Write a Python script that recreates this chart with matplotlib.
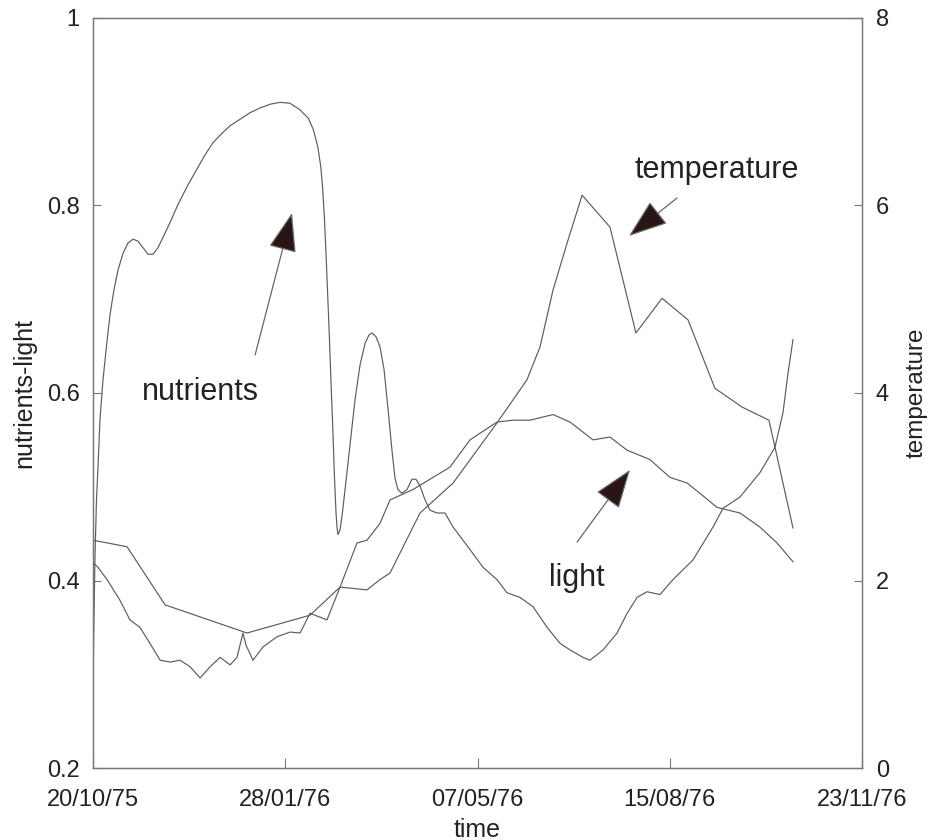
import matplotlib
matplotlib.use('Agg')
import matplotlib.pyplot as plt
import matplotlib.dates as mdates
from matplotlib.ticker import FuncFormatter
import pandas as pd

# Data: day offsets from 20/10/75
start = pd.Timestamp('1975-10-20')

nutr_day = [0, 0.5, 1.0, 1.8, 2.6, 3.6, 5.2, 6.8, 8.8, 10.9, 13.0, 15.6, 18.2, 20.8,
            23.4, 26.0, 28.6, 31.2, 33.8, 36.4, 40.1, 44.2, 49.4, 54.1, 58.3, 62.4,
            67.1, 71.3, 76.5, 81.7, 86.9, 92.1, 97.3, 102.5, 107.7, 112.0, 114.6,
            116.9, 118.5, 119.5, 120.4, 121.2, 122.1, 123.0, 123.8, 124.7, 125.5,
            126.4, 126.9, 127.4, 128.5, 129.6, 131.1, 133.7, 136.3, 138.9, 141.5,
            143.6, 145.1, 147.2, 149.3, 151.4, 153.5, 155.5, 157.1, 158.6, 160.7,
            163.3, 165.9, 168.0, 170.1, 172.7, 175.3, 178.9, 183.1, 187.3, 196.1,
            202.9, 210.1, 215.3, 222.1, 228.9, 236.2, 242.9, 248.1, 254.9, 258.5,
            265.3, 272.6, 277.8, 283.0, 288.2, 294.9, 301.7, 312.1, 322.5, 327.7,
            336.5, 346.9, 354.7, 358.9, 361.5, 364.1]
nutr_val = [0.294, 0.358, 0.422, 0.486, 0.521, 0.571, 0.614, 0.646, 0.683, 0.710,
            0.731, 0.749, 0.760, 0.764, 0.762, 0.755, 0.748, 0.748, 0.755, 0.766,
            0.782, 0.801, 0.822, 0.839, 0.854, 0.867, 0.877, 0.885, 0.892, 0.899,
            0.904, 0.908, 0.910, 0.909, 0.902, 0.893, 0.881, 0.863, 0.841, 0.817,
            0.785, 0.749, 0.703, 0.657, 0.611, 0.564, 0.515, 0.472, 0.457, 0.449,
            0.454, 0.470, 0.497, 0.545, 0.593, 0.630, 0.653, 0.662, 0.664, 0.660,
            0.649, 0.625, 0.582, 0.539, 0.509, 0.497, 0.493, 0.497, 0.508, 0.508,
            0.501, 0.486, 0.475, 0.472, 0.472, 0.457, 0.433, 0.414, 0.401, 0.387,
            0.382, 0.372, 0.350, 0.333, 0.326, 0.318, 0.315, 0.326, 0.344, 0.365,
            0.382, 0.388, 0.385, 0.401, 0.422, 0.457, 0.477, 0.489, 0.515, 0.542,
            0.579, 0.621, 0.657]

light_day = [0, 2.6, 7.3, 14.0, 19.2, 24.4, 29.6, 34.9, 40.1, 45.3, 50.5, 55.7, 60.9,
             66.1, 71.3, 74.9, 78.0, 79.6, 83.2, 88.4, 95.7, 102.5, 107.7, 112.9,
             121.7, 128.5, 137.3, 142.5, 149.3, 154.5, 166.4, 176.9, 185.7, 196.1,
             210.1, 218.5, 227.3, 239.3, 248.1, 260.1, 268.9, 277.8, 289.7, 300.1,
             309.0, 315.7, 324.6, 336.5, 346.9, 355.8, 364.1]
light_val = [0.419, 0.414, 0.401, 0.379, 0.358, 0.350, 0.333, 0.315, 0.313, 0.315,
             0.308, 0.296, 0.308, 0.318, 0.310, 0.318, 0.344, 0.331, 0.315, 0.329,
             0.340, 0.345, 0.344, 0.365, 0.358, 0.393, 0.440, 0.443, 0.461, 0.486,
             0.497, 0.510, 0.521, 0.550, 0.569, 0.571, 0.571, 0.577, 0.569, 0.550,
             0.553, 0.539, 0.529, 0.510, 0.504, 0.493, 0.478, 0.472, 0.457, 0.440,
             0.420]

temp_day = [0, 17.7, 37.5, 80.1, 112.9, 128.5, 142.5, 149.3, 154.5, 170.1, 187.3,
            210.1, 225.7, 232.5, 239.3, 246.6, 254.4, 268.9, 282.4, 296.0, 309.5,
            323.5, 337.6, 351.6, 364.1]
temp_val = [2.43, 2.36, 1.74, 1.44, 1.63, 1.93, 1.90, 2.01, 2.08, 2.72, 3.04, 3.68,
            4.14, 4.49, 5.10, 5.60, 6.11, 5.77, 4.64, 5.01, 4.78, 4.05, 3.85, 3.71,
            2.56]

tick_dates = ['1975-10-20', '1976-01-28', '1976-05-07', '1976-08-15', '1976-11-23']


def to_dates(days):
    return start + pd.to_timedelta(days, unit='D')


def d2n(day):
    return mdates.date2num(start + pd.Timedelta(days=day))


plt.rcParams['font.family'] = ['Liberation Sans', 'DejaVu Sans']
line_col = '#5c5c5c'
text_col = '#222222'
axis_col = '#777777'

fig = plt.figure(figsize=(9.31, 8.40), dpi=100)
ax = fig.add_axes([0.0999, 0.0857, 0.8260, 0.8929])
ax2 = ax.twinx()

ax.plot(to_dates(nutr_day), nutr_val, color=line_col, lw=0.85)
ax.plot(to_dates(light_day), light_val, color=line_col, lw=0.85)
ax2.plot(to_dates(temp_day), temp_val, color=line_col, lw=0.85)

ax.set_xlim(pd.Timestamp(tick_dates[0]), pd.Timestamp(tick_dates[-1]))
ax.set_ylim(0.2, 1.0)
ax2.set_ylim(0, 8)

ax.set_xticks([pd.Timestamp(d) for d in tick_dates])
ax.xaxis.set_major_formatter(mdates.DateFormatter('%d/%m/%y'))
ax.set_yticks([0.2, 0.4, 0.6, 0.8, 1.0])
ax.yaxis.set_major_formatter(FuncFormatter(lambda v, p: f'{v:g}'))
ax2.set_yticks([0, 2, 4, 6, 8])

ax.tick_params(axis='x', direction='in', length=7, width=0.8, color=axis_col,
               labelsize=17, pad=15, labelcolor=text_col)
ax.tick_params(axis='y', direction='in', length=6, width=0.8, color=axis_col,
               labelsize=17, pad=9.5, labelcolor=text_col)
ax2.tick_params(axis='y', direction='in', length=6, width=0.8, color=axis_col,
                labelsize=17, pad=10, labelcolor=text_col)

for a in (ax, ax2):
    for s in a.spines.values():
        s.set_color(axis_col)
        s.set_linewidth(0.9)

ax.set_xlabel('time', fontsize=18, color=text_col)
ax.xaxis.set_label_coords(0.5, -0.066)
ax.set_ylabel('nutrients-light', fontsize=18, color=text_col, va='center')
ax.yaxis.set_label_coords(-0.0897, 0.5)
ax2.set_ylabel('temperature', fontsize=17.5, color=text_col, va='center')
ax2.yaxis.set_label_coords(1.071, 0.5)

# annotations with arrows
arrow_kw = dict(arrowstyle='-|>,head_length=1.25,head_width=0.45', mutation_scale=20,
                ec='#666666', fc='#2a1515', lw=0.9, shrinkA=0, shrinkB=0)

ax.text(d2n(55.7), 0.601, 'nutrients', fontsize=22, ha='center', va='center', color=text_col)
ax.annotate('', xy=(d2n(103.5), 0.792), xytext=(d2n(84.3), 0.6405), arrowprops=arrow_kw)

ax.text(d2n(324.6), 0.838, 'temperature', fontsize=22, ha='center', va='center', color=text_col)
ax.annotate('', xy=(d2n(278.8), 0.7675), xytext=(d2n(303.8), 0.808), arrowprops=arrow_kw)

ax.text(d2n(251.8), 0.4027, 'light', fontsize=22, ha='center', va='center', color=text_col)
ax.annotate('', xy=(d2n(279.3), 0.518), xytext=(d2n(251.8), 0.441), arrowprops=arrow_kw)

fig.savefig('out.png', dpi=100)
